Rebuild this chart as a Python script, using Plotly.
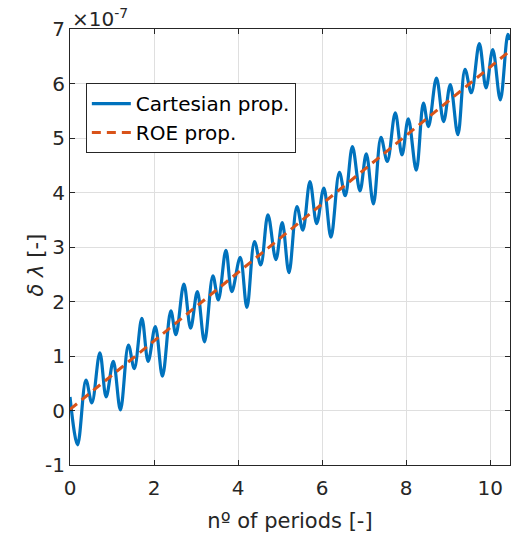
import plotly.graph_objects as go

SCALE = 1e-7

# Cartesian propagation: extrema (x in periods, y in units of 1e-7)
cart_x = [0.00, 0.18, 0.38, 0.52, 0.71, 0.86, 1.03, 1.20, 1.39, 1.53, 1.71, 1.86,
          2.03, 2.20, 2.40, 2.52, 2.71, 2.87, 3.03, 3.20, 3.40, 3.53, 3.71, 3.85,
          4.05, 4.21, 4.39, 4.54, 4.71, 4.90, 5.05, 5.21, 5.40, 5.54, 5.71, 5.87,
          6.04, 6.21, 6.41, 6.55, 6.72, 6.90, 7.05, 7.22, 7.40, 7.55, 7.74, 7.90,
          8.05, 8.24, 8.41, 8.53, 8.72, 8.89, 9.05, 9.23, 9.40, 9.55, 9.74, 9.90,
          10.06, 10.24, 10.42, 10.47]
cart_y = [0.25, -0.63, 0.56, 0.14, 1.06, 0.25, 0.90, 0.01, 1.20, 0.77, 1.69, 0.90,
          1.54, 0.63, 1.83, 1.39, 2.32, 1.51, 2.18, 1.26, 2.47, 2.03, 2.94, 2.18,
          2.81, 1.89, 3.10, 2.67, 3.59, 2.77, 3.45, 2.53, 3.74, 3.31, 4.20, 3.43,
          4.08, 3.18, 4.37, 3.94, 4.84, 4.03, 4.71, 3.79, 5.01, 4.57, 5.46, 4.69,
          5.35, 4.41, 5.64, 5.21, 6.10, 5.30, 5.98, 5.06, 6.26, 5.83, 6.73, 5.92,
          6.62, 5.70, 6.90, 6.80]

# ROE propagation (straight trend)
roe_x = [0.0, 10.47]
roe_y = [0.02, 6.60]

x_ticks = [0, 2, 4, 6, 8, 10]
y_ticks = [-1, 0, 1, 2, 3, 4, 5, 6, 7]
y_tick_labels = ["-1", "0", "1", "2", "3", "4", "5", "6", "7"]

BLUE = "#0072BD"
ORANGE = "#D95319"
AXC = "#262626"
GRID = "#DFDFDF"
FONT = "DejaVu Sans, Liberation Sans, Arial, sans-serif"

fig = go.Figure()
fig.add_trace(go.Scatter(
    x=cart_x, y=[v * SCALE for v in cart_y], mode="lines",
    name="Cartesian prop.",
    line=dict(color=BLUE, width=3.2, shape="spline", smoothing=1.0),
))
fig.add_trace(go.Scatter(
    x=roe_x, y=[v * SCALE for v in roe_y], mode="lines",
    name="ROE prop.",
    line=dict(color=ORANGE, width=3, dash="9px,6px"),
))

fig.update_layout(
    width=511, height=538,
    margin=dict(l=70, r=1, t=29, b=73, autoexpand=False),
    plot_bgcolor="white", paper_bgcolor="white",
    font=dict(family=FONT, color=AXC, size=20),
    showlegend=True,
    legend=dict(
        x=0.036, y=0.876, xanchor="left", yanchor="top",
        bgcolor="white", bordercolor=AXC, borderwidth=1,
        font=dict(size=20, color="black"),
        tracegroupgap=0, itemwidth=39,
    ),
    xaxis=dict(
        range=[0, 10.47], tickvals=x_ticks, automargin=False,
        showgrid=True, gridcolor=GRID, gridwidth=1,
        showline=True, linecolor=AXC, linewidth=1, mirror="ticks",
        ticks="inside", ticklen=5, tickcolor=AXC, zeroline=False,
        tickfont=dict(size=20, color=AXC), ticklabelstandoff=5,
        title=dict(text="nº of periods [-]", font=dict(size=21, color=AXC), standoff=14),
    ),
    yaxis=dict(
        range=[-1 * SCALE, 7 * SCALE], automargin=False,
        tickvals=[v * SCALE for v in y_ticks], ticktext=y_tick_labels,
        showgrid=True, gridcolor=GRID, gridwidth=1,
        showline=True, linecolor=AXC, linewidth=1, mirror="ticks",
        ticks="inside", ticklen=5, tickcolor=AXC, zeroline=False,
        tickfont=dict(size=20, color=AXC),
    ),
    annotations=[
        dict(
            text="×10<sup>-7</sup>", xref="paper", yref="paper",
            x=0.0, y=1.0, xanchor="left", yanchor="bottom", yshift=-4,
            showarrow=False, font=dict(size=20, color=AXC),
        ),
        dict(
            text="<i>δ λ</i> [-]", xref="paper", yref="paper",
            x=-0.077, y=0.458, xanchor="center", yanchor="middle",
            textangle=-90, showarrow=False, font=dict(size=21, color=AXC),
        ),
    ],
)

fig.write_html("out.html", post_script="document.body.style.margin='0';",
               config={"displayModeBar": False})
